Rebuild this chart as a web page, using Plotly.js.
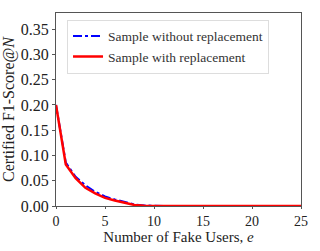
<!DOCTYPE html>
<html>
<head>
<meta charset="utf-8">
<script src="https://cdn.plot.ly/plotly-3.0.1.min.js"></script>
<style>html,body{margin:0;padding:0;background:#fff;}#chart{width:320px;height:251px;}</style>
</head>
<body>
<div id="chart"></div>
<script>
const fakeUsers = [0,1,2,3,4,5,6,7,8,9,10,11,12,13,14,15,16,17,18,19,20,21,22,23,24,25];
const withoutReplacement = [0.200,0.086,0.058,0.041,0.028,0.019,0.013,0.008,0.003,0.001,0,0,0,0,0,0,0,0,0,0,0,0,0,0,0,0];
const withReplacement = [0.200,0.082,0.055,0.036,0.025,0.016,0.011,0.006,0.002,0.0005,0,0,0,0,0,0,0,0,0,0,0,0,0,0,0,0];
const seriesNames = ['Sample without replacement','Sample with replacement'];
const xTicks = [0,5,10,15,20,25];
const yTicks = [0,0.05,0.10,0.15,0.20,0.25,0.30,0.35];

const font = 'Liberation Serif';
const traces = [
  {x: fakeUsers, y: withoutReplacement, name: seriesNames[0], mode: 'lines',
   line: {color: '#0000ff', width: 2, dash: 'dashdot'}},
  {x: fakeUsers, y: withReplacement, name: seriesNames[1], mode: 'lines',
   line: {color: '#ff0000', width: 2.5}}
];
const layout = {
  width: 320, height: 251,
  margin: {l: 56, r: 16, t: 12, b: 39},
  paper_bgcolor: '#fff', plot_bgcolor: '#fff',
  font: {family: font, color: '#222', size: 16},
  showlegend: true,
  legend: {x: 0.045, y: 0.965, xanchor: 'left', yanchor: 'top',
    bgcolor: 'rgba(255,255,255,0.9)', bordercolor: '#ddd', borderwidth: 1,
    font: {family: font, size: 13.5, color: '#333'}, tracegroupgap: 0},
  xaxis: {range: [0, 25], tickvals: xTicks, ticktext: xTicks.map(String),
    showgrid: false, zeroline: false, showline: true, mirror: true,
    linecolor: '#555', linewidth: 1, ticks: 'outside', ticklen: 2, tickcolor: '#555',
    tickfont: {family: font, size: 14, color: '#222'}, automargin: true,
    title: {text: 'Number of Fake Users, <i>e</i>', standoff: 0, font: {family: font, size: 15, color: '#222'}}},
  yaxis: {range: [0, 0.382], tickvals: yTicks, ticktext: yTicks.map(v => v.toFixed(2)),
    showgrid: false, zeroline: false, showline: true, mirror: true,
    linecolor: '#555', linewidth: 1, ticks: 'outside', ticklen: 3, tickcolor: '#555',
    tickfont: {family: font, size: 16, color: '#222'},
    title: {text: 'Certified F1-Score@<i>N</i>', font: {family: font, size: 16, color: '#222'}}}
};
Plotly.newPlot('chart', traces, layout, {displayModeBar: false, staticPlot: true});
</script>
</body>
</html>
